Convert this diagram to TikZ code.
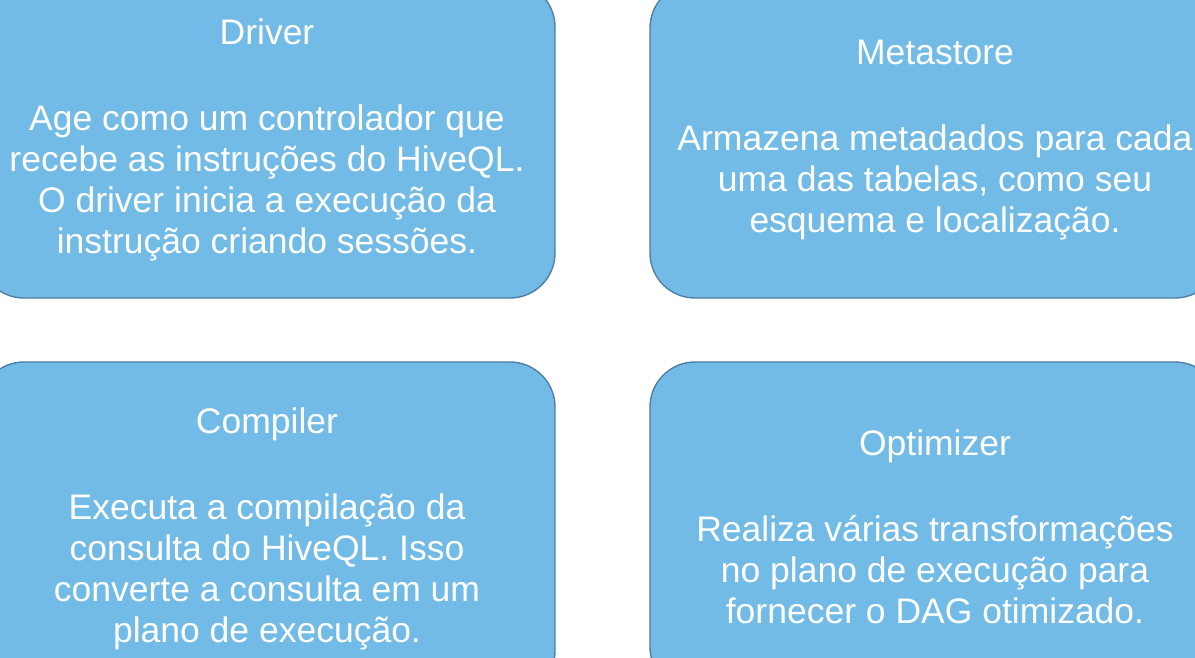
\documentclass[tikz,border=0pt]{standalone}
\usepackage{fontspec}
\setmainfont{Liberation Sans}
\definecolor{boxfill}{RGB}{113,187,230}
\definecolor{boxline}{RGB}{80,128,165}

\begin{document}
\begin{tikzpicture}
  [x=1pt,y=-1pt,
   every node/.style={rectangle,rounded corners=45pt,draw=boxline,fill=boxfill,
     line width=1.4pt,text=white,align=center,inner sep=0pt,
     font=\fontsize{35.5}{41}\selectfont}]
  \useasboundingbox (0,0) rectangle (1195,657);
  \clip (0,0) rectangle (1195,657);

  \node[minimum width=576pt,minimum height=316pt] (driver) at (267,140)
    {Driver\\[45pt]Age como um controlador que\\recebe as instruções do HiveQL.\\
     O driver inicia a execução da\\instrução criando sessões.};
  \node[minimum width=570pt,minimum height=315pt] (metastore) at (935,140.5)
    {Metastore\\[45pt]Armazena metadados para cada\\uma das tabelas, como seu\\
     esquema e localização.};

  \node[minimum width=576pt,minimum height=334pt] (compiler) at (267,529)
    {Compiler\\[45pt]Executa a compilação da\\consulta do HiveQL. Isso\\
     converte a consulta em um\\plano de execução.};
  \node[minimum width=570pt,minimum height=330pt] (optimizer) at (935,527)
    {Optimizer\\[45pt]Realiza várias transformações\\no plano de execução para\\
     fornecer o DAG otimizado.};
\end{tikzpicture}
\end{document}
